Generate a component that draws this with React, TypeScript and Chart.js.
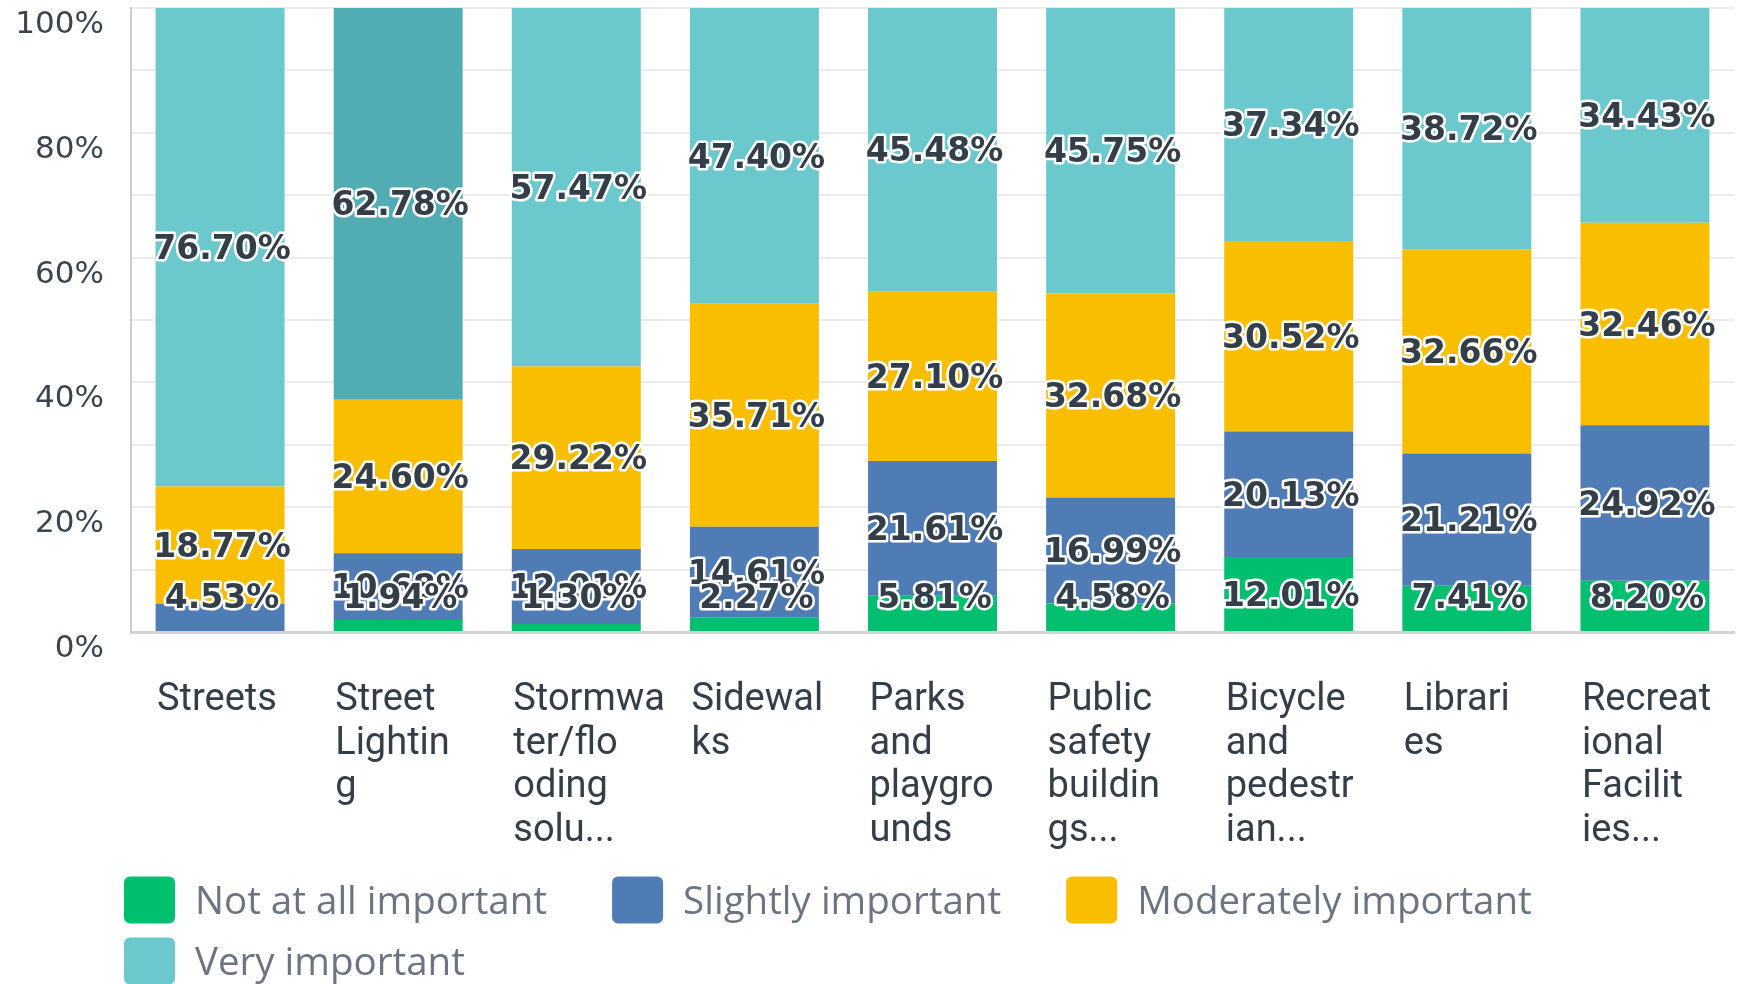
import React, { useEffect, useRef } from 'react';
import { Chart, registerables } from 'chart.js';
Chart.register(...registerables);

const categories: string[][] = [
  ['Streets'],
  ['Street', 'Lightin', 'g'],
  ['Stormwa', 'ter/flo', 'oding', 'solu...'],
  ['Sidewal', 'ks'],
  ['Parks', 'and', 'playgro', 'unds'],
  ['Public', 'safety', 'buildin', 'gs...'],
  ['Bicycle', 'and', 'pedestr', 'ian...'],
  ['Librari', 'es'],
  ['Recreat', 'ional', 'Facilit', 'ies...'],
];
const notAtAll = [0, 1.94, 1.3, 2.27, 5.81, 4.58, 12.01, 7.41, 8.2];
const slightly = [4.53, 10.68, 12.01, 14.61, 21.61, 16.99, 20.13, 21.21, 24.92];
const moderately = [18.77, 24.6, 29.22, 35.71, 27.1, 32.68, 30.52, 32.66, 32.46];
const very = [76.7, 62.78, 57.47, 47.4, 45.48, 45.75, 37.34, 38.72, 34.43];
const seriesNames = ['Not at all important', 'Slightly important', 'Moderately important', 'Very important'];
const seriesColors = ['#00bf6f', '#507cb6', '#f9be00', '#6bc8cd'];
const hoverTeal = '#51adb3';
const hoveredIndex = 1;

const segLabels = {
  id: 'segLabels',
  afterDatasetsDraw(chart: any) {
    const ctx = chart.ctx;
    const area = chart.chartArea;
    ctx.save();
    ctx.font = 'bold 33px "DejaVu Sans"';
    ctx.textAlign = 'center';
    ctx.textBaseline = 'middle';
    ctx.lineJoin = 'round';
    ctx.lineWidth = 5;
    ctx.strokeStyle = '#ffffff';
    ctx.fillStyle = '#333e48';
    for (let d = chart.data.datasets.length - 1; d >= 0; d--) {
      const meta = chart.getDatasetMeta(d);
      meta.data.forEach((bar: any, i: number) => {
        const v = chart.data.datasets[d].data[i];
        if (!v) return;
        const p = bar.getProps(['x', 'y', 'base'], true);
        let cy = (p.y + p.base) / 2 + 3;
        cy = Math.min(cy, area.bottom - 33);
        const t = v.toFixed(2) + '%';
        ctx.strokeText(t, p.x + 2, cy);
        ctx.fillText(t, p.x + 2, cy);
      });
    }
    ctx.restore();
  },
};

const customLegend = {
  id: 'customLegend',
  afterDraw(chart: any) {
    const ctx = chart.ctx;
    ctx.save();
    ctx.font = '38.5px "Open Sans"';
    ctx.textBaseline = 'middle';
    ctx.textAlign = 'left';
    const startX = 124;
    const boxW = 51;
    const boxH = 47;
    const gapText = 20;
    const gapItem = 65;
    let x = startX;
    let row = 0;
    chart.data.datasets.forEach((ds: any, i: number) => {
      const tw = ctx.measureText(ds.label).width;
      const w = boxW + gapText + tw;
      if (x + w > chart.width && x > startX) {
        x = startX;
        row++;
      }
      const cy = 900 + row * 61;
      ctx.fillStyle = seriesColors[i];
      ctx.beginPath();
      ctx.roundRect(x, cy - boxH / 2, boxW, boxH, 6);
      ctx.fill();
      ctx.fillStyle = '#6b7480';
      ctx.fillText(ds.label, x + boxW + gapText, cy + 3);
      x += w + gapItem;
    });
    ctx.restore();
  },
};

export default function App() {
  const ref = useRef<HTMLCanvasElement>(null);
  useEffect(() => {
    const veryColors = very.map((_, i) => (i === hoveredIndex ? hoverTeal : seriesColors[3]));
    const chart = new Chart(ref.current as HTMLCanvasElement, {
      type: 'bar',
      data: {
        labels: categories as any,
        datasets: [
          { label: seriesNames[0], data: notAtAll, backgroundColor: seriesColors[0] },
          { label: seriesNames[1], data: slightly, backgroundColor: seriesColors[1] },
          { label: seriesNames[2], data: moderately, backgroundColor: seriesColors[2] },
          { label: seriesNames[3], data: very, backgroundColor: veryColors },
        ],
      },
      options: {
        responsive: false,
        animation: false,
        devicePixelRatio: 1,
        layout: { padding: { left: 0, right: 6, top: 8, bottom: 0 } },
        datasets: { bar: { barPercentage: 0.724, categoryPercentage: 1, borderWidth: 0 } } as any,
        plugins: { legend: { display: false }, tooltip: { enabled: false } },
        scales: {
          x: {
            stacked: true,
            grid: { display: false },
            border: { display: true, color: '#d3d3d3', width: 3 },
            ticks: {
              autoSkip: false,
              maxRotation: 0,
              minRotation: 0,
              align: 'start',
              labelOffset: -63,
              padding: 39,
              color: '#333e48',
              font: { family: 'Roboto', size: 38, lineHeight: '43.5px' },
            },
            afterFit: (s: any) => {
              s.height = 352;
              s.paddingLeft = 0;
              s.paddingRight = 0;
            },
          },
          y: {
            stacked: true,
            min: 0,
            max: 100,
            grid: { color: '#ebebeb', lineWidth: 2, drawTicks: false },
            border: { display: true, color: '#cccccc', width: 2 },
            ticks: {
              stepSize: 10,
              labelOffset: 17,
              padding: 27,
              color: '#3a444e',
              font: { family: 'DejaVu Sans', size: 31 },
              callback: (v: any) => (Number(v) % 20 === 0 ? v + '%' : ''),
            },
            afterFit: (s: any) => {
              s.width = 131;
              s.paddingTop = 0;
              s.paddingBottom = 0;
            },
          },
        },
      },
      plugins: [segLabels, customLegend],
    });
    return () => chart.destroy();
  }, []);
  return (
    <div style={{ position: 'absolute', left: 0, top: 0, width: 1740, height: 984, background: '#ffffff' }}>
      <canvas ref={ref} width={1740} height={984} style={{ display: 'block', width: 1740, height: 984 }} />
    </div>
  );
}
